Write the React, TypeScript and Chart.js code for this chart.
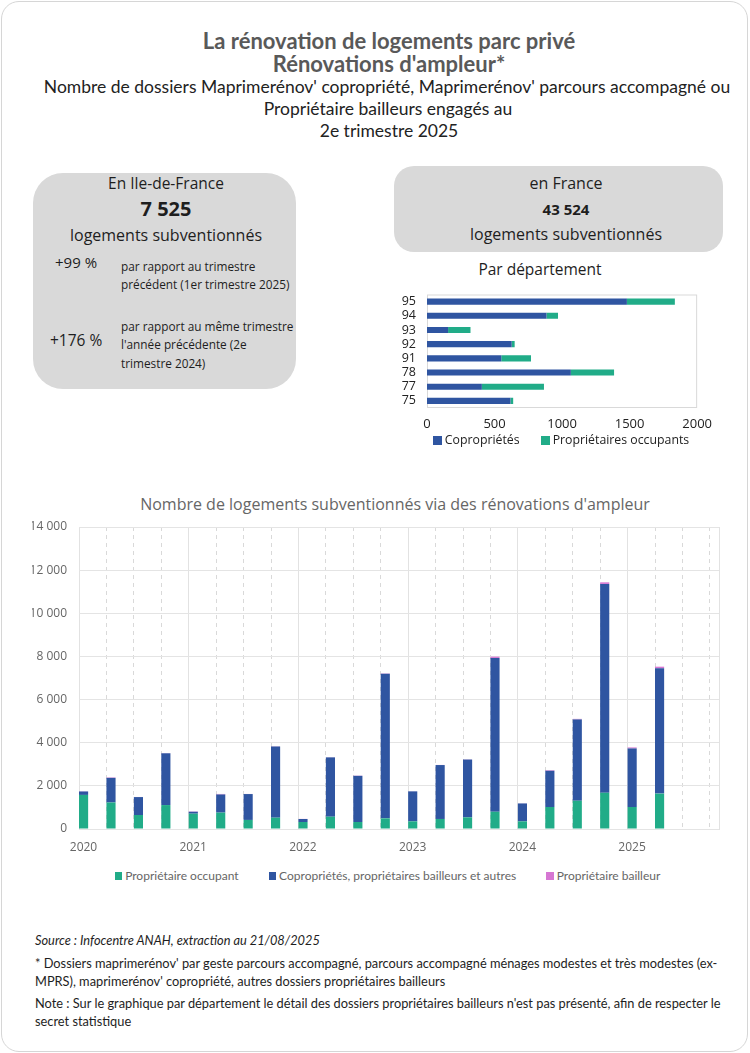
import React, { useEffect, useRef } from 'react';
import { Chart, registerables } from 'chart.js';

Chart.register(...registerables);

// ---------- Data ----------
const QUARTERS = [
  '2020-T1', '2020-T2', '2020-T3', '2020-T4',
  '2021-T1', '2021-T2', '2021-T3', '2021-T4',
  '2022-T1', '2022-T2', '2022-T3', '2022-T4',
  '2023-T1', '2023-T2', '2023-T3', '2023-T4',
  '2024-T1', '2024-T2', '2024-T3', '2024-T4',
  '2025-T1', '2025-T2',
];
const OCCUPANTS = [1580, 1230, 650, 1110, 710, 760, 420, 525, 325, 570, 325, 495, 355, 465, 540, 800, 355, 1020, 1310, 1680, 1020, 1640];
const COPRO = [160, 1140, 830, 2400, 90, 840, 1200, 3300, 140, 2750, 2140, 6700, 1390, 2500, 2680, 7130, 830, 1680, 3770, 9680, 2715, 5810];
const BAILLEURS = [10, 20, 5, 10, 15, 25, 5, 10, 5, 10, 10, 15, 5, 5, 10, 60, 5, 26, 25, 75, 46, 75];
const YEAR_LABELS = ['2020', '2021', '2022', '2023', '2024', '2025'];
const SERIES_LABELS = ['Propriétaire occupant', 'Copropriétés, propriétaires bailleurs et autres', 'Propriétaire bailleur'];
const Y_MAX = 14000;
const Y_STEP = 2000;

const DEPTS = ['95', '94', '93', '92', '91', '78', '77', '75'];
const DEPT_COPRO = [1480, 885, 156, 627, 550, 1065, 406, 618];
const DEPT_OCC = [355, 85, 166, 22, 220, 320, 460, 20];
const DEPT_SERIES = ['Copropriétés', 'Propriétaires occupants'];
const DEPT_MAX = 2000;
const DEPT_STEP = 500;

// ---------- Styles ----------
const BLUE = '#2F55A1';
const GREEN = '#21AC88';
const PINK = '#D677D3';
const MAR = '"Open Sans", sans-serif';
const CAL = 'Lato, sans-serif';
const BAR_FRACTION = 1 / 3;
const QUARTERS_PER_YEAR = 4;

const frNum = (v: number) => String(v).replace(/\B(?=(\d{3})+(?!\d))/g, ' ');

function MainChart() {
  const ref = useRef<HTMLCanvasElement | null>(null);
  useEffect(() => {
    if (!ref.current) return;
    const slots = YEAR_LABELS.length * QUARTERS_PER_YEAR;
    const xMax = slots - 1 + BAR_FRACTION;
    const pts = (arr: number[]) => arr.map((v, i) => ({ x: i + BAR_FRACTION / 2, y: v }));
    const isYear = (c: any) => c.tick && c.tick.value % QUARTERS_PER_YEAR === 0;
    const chart = new Chart(ref.current, {
      type: 'bar',
      data: {
        datasets: [
          { label: SERIES_LABELS[0], data: pts(OCCUPANTS), backgroundColor: GREEN },
          { label: SERIES_LABELS[1], data: pts(COPRO), backgroundColor: BLUE },
          { label: SERIES_LABELS[2], data: pts(BAILLEURS), backgroundColor: PINK },
        ],
      },
      options: {
        animation: false,
        responsive: false,
        maintainAspectRatio: false,
        layout: { autoPadding: false, padding: { top: 39, left: 12, right: 13, bottom: 5 } },
        datasets: { bar: { barPercentage: BAR_FRACTION, categoryPercentage: 1, borderWidth: 0 } },
        plugins: { legend: { display: false }, title: { display: false }, tooltip: { enabled: false } },
        scales: {
          x: {
            type: 'linear',
            stacked: true,
            offset: false,
            min: 0,
            max: xMax,
            afterBuildTicks: (s: any) => {
              const t: any[] = [];
              for (let i = 0; i < slots; i++) t.push({ value: i });
              s.ticks = t;
            },
            afterFit: (s: any) => { s.height = 24; },
            grid: {
              offset: false,
              drawTicks: false,
              color: (c: any) => (isYear(c) ? '#e2e2e2' : '#d9d9d9'),
              lineWidth: 1,
            },
            border: {
              display: false,
              dash: (c: any) => (isYear(c) ? [] : [4, 4]),
            },
            ticks: {
              autoSkip: false,
              maxRotation: 0,
              padding: 11,
              labelOffset: 4.5,
              color: '#666',
              font: { family: MAR, size: 12 },
              callback: (v: any) => (Number.isInteger(v) && v % QUARTERS_PER_YEAR === 0 ? YEAR_LABELS[v / QUARTERS_PER_YEAR] : ''),
            },
          } as any,
          y: {
            stacked: true,
            min: 0,
            max: Y_MAX,
            afterFit: (s: any) => { s.width = 47; },
            grid: { color: '#e4e4e4', drawTicks: false },
            border: { display: false },
            ticks: {
              stepSize: Y_STEP,
              padding: 12,
              color: '#666',
              font: { family: MAR, size: 12 },
              callback: (v: any) => frNum(Number(v)),
            },
          },
          yRight: {
            position: 'right',
            afterFit: (s: any) => { s.width = 0; },
            grid: { display: false, drawTicks: false },
            ticks: { display: false },
            border: { display: true, color: '#e2e2e2', width: 1 },
          },
        },
      } as any,
    });
    return () => chart.destroy();
  }, []);
  return <canvas ref={ref} width={712} height={370} style={{ position: 'absolute', left: 20, top: 488 }} />;
}

const plotBorder = {
  id: 'plotBorder',
  beforeDatasetsDraw(chart: any) {
    const { ctx, chartArea } = chart;
    ctx.save();
    ctx.strokeStyle = '#d9d9d9';
    ctx.lineWidth = 1;
    ctx.strokeRect(chartArea.left + 0.5, chartArea.top + 0.5, chartArea.right - chartArea.left - 1, chartArea.bottom - chartArea.top - 1);
    ctx.restore();
  },
};

function DeptChart() {
  const ref = useRef<HTMLCanvasElement | null>(null);
  useEffect(() => {
    if (!ref.current) return;
    const chart = new Chart(ref.current, {
      type: 'bar',
      data: {
        labels: DEPTS,
        datasets: [
          { label: DEPT_SERIES[0], data: DEPT_COPRO, backgroundColor: BLUE },
          { label: DEPT_SERIES[1], data: DEPT_OCC, backgroundColor: GREEN },
        ],
      },
      plugins: [plotBorder],
      options: {
        indexAxis: 'y',
        animation: false,
        responsive: false,
        maintainAspectRatio: false,
        layout: { autoPadding: false, padding: { top: 7, left: 14, right: 15, bottom: 2 } },
        datasets: { bar: { barPercentage: 0.43, categoryPercentage: 1, borderWidth: 0 } },
        plugins: { legend: { display: false }, title: { display: false }, tooltip: { enabled: false } },
        scales: {
          x: {
            stacked: true,
            min: 0,
            max: DEPT_MAX,
            afterFit: (s: any) => { s.height = 24; },
            grid: { display: false, drawTicks: false },
            border: { display: false },
            ticks: {
              stepSize: DEPT_STEP,
              padding: 8,
              color: '#222',
              font: { family: MAR, size: 13 },
              callback: (v: any) => String(v),
            },
          },
          y: {
            stacked: true,
            afterFit: (s: any) => { s.width = 25; },
            grid: { display: false, drawTicks: false },
            border: { display: false },
            ticks: { autoSkip: false, padding: 11, color: '#222', font: { family: MAR, size: 12.5 } },
          },
        },
      } as any,
    });
    return () => chart.destroy();
  }, []);
  return <canvas ref={ref} width={332} height={158} style={{ position: 'absolute', left: 388, top: 276 }} />;
}

type TProps = { x: number; y: number; size: number; text: string; font?: string; weight?: number | string; color?: string; center?: boolean; italic?: boolean };
function T({ x, y, size, text, font = MAR, weight = 400, color = '#1e1e1e', center = false, italic = false }: TProps) {
  const lh = Math.round(size * 1.4);
  return (
    <div
      style={{
        position: 'absolute',
        left: center ? x - 400 : x,
        width: center ? 800 : undefined,
        top: y - lh / 2,
        lineHeight: lh + 'px',
        fontSize: size,
        fontFamily: font,
        fontWeight: weight as any,
        fontStyle: italic ? 'italic' : 'normal',
        color,
        textAlign: center ? 'center' : 'left',
        whiteSpace: 'nowrap',
      }}
    >
      {text}
    </div>
  );
}

function Legend({ left, top, width, items, colors, font, size, color, box, gap, boxGap }: any) {
  return (
    <div style={{ position: 'absolute', left, top, width, display: 'flex', justifyContent: 'center', alignItems: 'center', gap }}>
      {items.map((it: string, i: number) => (
        <div key={it} style={{ display: 'flex', alignItems: 'center', whiteSpace: 'nowrap' }}>
          <span style={{ display: 'inline-block', width: box, height: box, background: colors[i], marginRight: boxGap }} />
          <span style={{ fontFamily: font, fontSize: size, color, lineHeight: '16px' }}>{it}</span>
        </div>
      ))}
    </div>
  );
}

export default function App() {
  return (
    <div style={{ position: 'absolute', left: 0, top: 0, width: 750, height: 1053, background: '#fff', overflow: 'hidden' }}>
      <div style={{ position: 'absolute', left: 1, top: 1, width: 745, height: 1049, border: '1px solid #d6d6d6', borderRadius: 18 }} />

      <T x={389} y={40} size={22} weight={700} font={CAL} color="#595959" center text="La rénovation de logements parc privé" />
      <T x={389} y={63} size={22} weight={700} font={CAL} color="#595959" center text="Rénovations d'ampleur*" />
      <T x={387} y={86} size={17.5} font={CAL} color="#222" center text="Nombre de dossiers Maprimerénov' copropriété, Maprimerénov' parcours accompagné ou" />
      <T x={388} y={108} size={17.5} font={CAL} color="#222" center text="Propriétaire bailleurs engagés au" />
      <T x={389} y={130} size={17.5} font={CAL} color="#222" center text="2e trimestre 2025" />

      <div style={{ position: 'absolute', left: 33, top: 173, width: 263, height: 216, background: '#D9D9D9', borderRadius: 30 }} />
      <T x={166} y={183} size={15.5} center text="En Ile-de-France" />
      <T x={166} y={209} size={20} weight={700} center text="7 525" />
      <T x={166} y={235} size={16} center text="logements subventionnés" />
      <T x={55} y={262} size={15} text="+99 %" />
      <T x={121} y={266} size={11.8} text="par rapport au trimestre" />
      <T x={121} y={284} size={11.8} text="précédent (1er trimestre 2025)" />
      <T x={50} y={340} size={15.5} text="+176 %" />
      <T x={121} y={326} size={11.8} text="par rapport au même trimestre" />
      <T x={121} y={344} size={11.8} text="l'année précédente (2e" />
      <T x={121} y={363} size={11.8} text="trimestre 2024)" />

      <div style={{ position: 'absolute', left: 394, top: 166, width: 329, height: 86, background: '#D9D9D9', borderRadius: 20 }} />
      <T x={566} y={183} size={16} center text="en France" />
      <T x={566} y={209} size={15} weight={700} center text="43 524" />
      <T x={566} y={234} size={16} center text="logements subventionnés" />

      <T x={540} y={269} size={15.5} center text="Par département" />
      <DeptChart />
      <Legend left={361} top={432} width={400} items={DEPT_SERIES} colors={[BLUE, GREEN]} font={MAR} size={12.3} color="#222" box={9} gap={21} boxGap={3} />

      <T x={395} y={504} size={16} color="#666" center text="Nombre de logements subventionnés via des rénovations d'ampleur" />
      <MainChart />
      <Legend left={0} top={868} width={775} items={SERIES_LABELS} colors={[GREEN, BLUE, PINK]} font={CAL} size={12} color="#666" box={7.5} gap={30} boxGap={3} />

      <T x={35} y={940} size={12.8} font={CAL} italic text="Source : Infocentre ANAH, extraction au 21/08/2025" />
      <T x={35} y={963} size={12.8} font={CAL} text="* Dossiers maprimerénov' par geste parcours accompagné, parcours accompagné ménages modestes et très modestes (ex-" />
      <T x={35} y={981} size={12.8} font={CAL} text="MPRS), maprimerénov' copropriété, autres dossiers propriétaires bailleurs" />
      <T x={35} y={1003} size={12.8} font={CAL} text="Note : Sur le graphique par département le détail des dossiers propriétaires bailleurs n'est pas présenté, afin de respecter le" />
      <T x={35} y={1021} size={12.8} font={CAL} text="secret statistique" />
    </div>
  );
}
